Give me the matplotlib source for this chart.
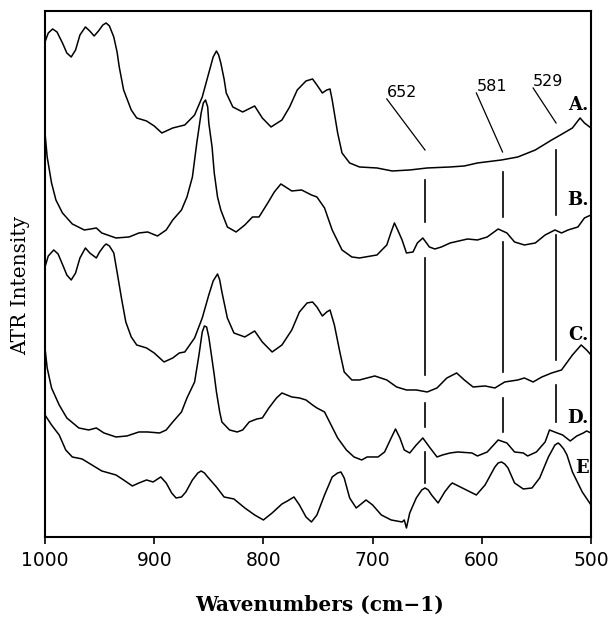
import matplotlib.pyplot as plt

# spectra: wavenumber (cm-1) and ATR intensity (arb. units)
wn_a = [1000, 997, 993, 989, 984, 980, 976, 972, 968, 963, 959, 955, 951, 947, 944,
        941, 937, 934, 932, 928, 921, 916, 907, 900, 893, 883,
        872, 863, 856, 850, 846, 843, 841, 839, 836, 834, 828, 819, 808, 801, 793,
        783, 776, 769, 761, 755, 751, 746, 742, 739, 737, 732, 728, 721, 712, 696,
        682, 666, 650, 629, 616, 604, 582, 567, 551, 536, 528, 517, 510, 506, 500]
int_a = [495, 504, 508, 505, 494, 484, 480, 487, 502, 510, 506, 501, 506, 512, 514,
         511, 500, 485, 470, 447, 427, 419, 416, 411, 404, 409,
         412, 422, 440, 464, 480, 486, 482, 474, 458, 444, 430, 425, 431, 419, 410,
         417, 430, 447, 456, 458, 452, 444, 447, 448, 437, 404, 384, 374, 370, 369,
         366, 367, 369, 370, 371, 374, 377, 380, 387, 397, 402, 409, 419, 414, 409]

wn_b = [1000, 998, 994, 990, 984, 975, 964, 958, 953, 948, 935, 923, 914, 906, 897,
        889, 883, 875, 870, 865, 861, 857, 855, 853, 851, 850, 847, 845, 842, 839,
        833, 825, 817, 810, 804, 796, 790, 784, 774, 765, 756, 751, 744, 737, 728,
        719, 712, 696, 687, 683, 680, 677, 673, 669, 663, 659, 654, 648, 643, 637,
        629, 625, 613, 604, 595, 585, 577, 570, 561, 551, 542, 533, 527, 521, 512,
        506, 500]
int_b = [404, 380, 354, 337, 324, 313, 307, 308, 309, 304, 299, 300, 304, 305, 301,
         307, 317, 327, 340, 360, 394, 424, 434, 437, 430, 414, 390, 364, 340, 327,
         310, 305, 312, 320, 320, 334, 345, 353, 346, 347, 342, 340, 329, 307, 287,
         280, 279, 282, 292, 305, 314, 307, 297, 284, 285, 294, 299, 290, 288, 290,
         294, 295, 298, 297, 300, 308, 304, 295, 292, 294, 302, 307, 304, 307, 310,
         319, 322]

wn_c = [1000, 997, 992, 988, 983, 980, 976, 972, 968, 963, 959, 953, 950, 946, 944,
        941, 937, 934, 930, 926, 921, 916, 907, 900, 891, 883,
        877, 872, 863, 856, 850, 846, 842, 840, 838, 833, 827, 817, 808, 801, 792,
        783, 774, 767, 760, 755, 751, 746, 742, 739, 735, 730, 726, 719, 712, 698,
        687, 678, 669, 660, 650, 641, 632, 623, 616, 608, 597, 588, 579, 567, 561,
        553, 545, 536, 527, 517, 509, 504, 500]
int_c = [270, 281, 287, 283, 270, 262, 257, 264, 279, 289, 284, 279, 285, 291, 293,
         291, 284, 265, 239, 215, 200, 192, 189, 184, 175, 179,
         184, 185, 199, 219, 242, 256, 263, 257, 245, 219, 204, 200, 206, 195, 185,
         192, 207, 225, 234, 235, 230, 221, 225, 227, 212, 185, 165, 157, 157, 161,
         157, 150, 147, 147, 145, 149, 159, 164, 157, 150, 151, 149, 155, 157, 159,
         155, 160, 164, 167, 182, 192, 187, 182]

wn_d = [1000, 998, 994, 987, 980, 969, 960, 953, 946, 935, 925, 914, 906, 895, 889,
        883, 875, 870, 863, 859, 856, 854, 852, 850, 848, 845, 843, 840, 838, 831,
        824, 819, 813, 806, 801, 795, 788, 783, 774, 767, 761, 755, 751, 744, 738,
        732, 724, 717, 710, 705, 695, 689, 683, 679, 675, 671, 666, 660, 654, 648,
        641, 636, 629, 622, 609, 604, 595, 585, 577, 570, 562, 558, 550, 542, 538,
        531, 526, 519, 513, 507, 504, 500]
int_d = [189, 169, 149, 132, 119, 109, 107, 109, 104, 100, 101, 105, 105, 104, 107,
         115, 125, 139, 155, 182, 205, 211, 210, 200, 185, 162, 145, 125, 115, 107,
         105, 107, 115, 118, 119, 129, 139, 144, 140, 139, 137, 132, 129, 125, 112,
         99, 87, 80, 77, 80, 80, 85, 99, 108, 99, 87, 84, 92, 99, 90,
         80, 82, 84, 85, 84, 81, 85, 97, 94, 85, 84, 81, 85, 95, 107,
         104, 102, 96, 101, 104, 106, 104]

wn_e = [1000, 994, 987, 981, 975, 966, 957, 948, 935, 928, 920, 914, 907, 901, 894,
        889, 884, 880, 875, 871, 865, 860, 857, 854, 851, 843, 836, 827, 817, 808,
        800, 792, 783, 778, 772, 767, 761, 756, 751, 744, 737, 732, 729, 726, 721,
        715, 706, 700, 692, 683, 673, 671, 669, 666, 660, 655, 652, 649, 646, 640,
        634, 629, 627, 616, 605, 597, 588, 585, 582, 579, 576, 570, 562, 554, 547,
        539, 533, 530, 528, 525, 522, 517, 508, 500]
int_e = [122, 112, 102, 87, 80, 78, 72, 66, 62, 57, 51, 54, 57, 55, 60,
         54, 44, 39, 40, 45, 57, 64, 66, 64, 60, 50, 40, 38, 29, 22,
         17, 24, 33, 36, 40, 32, 20, 15, 22, 42, 60, 64, 65, 59, 39,
         29, 37, 32, 22, 17, 15, 17, 9, 24, 39, 47, 49, 47, 42, 34,
         45, 52, 54, 48, 42, 52, 70, 74, 75, 73, 69, 54, 48, 49, 59,
         80, 92, 94, 92, 88, 82, 65, 45, 32]

spectra = [(wn_a, int_a), (wn_b, int_b), (wn_c, int_c), (wn_d, int_d), (wn_e, int_e)]
curve_names = ['A.', 'B.', 'C.', 'D.', 'E']
name_levels = [432, 337, 202, 119, 69]

# marked bands: label, where the guide line is drawn, broken guide segments
peak_labels = ['652', '581', '529']
peak_pos = [652, 581, 532]
peak_segments = [
    [(357, 315), (279, 162), (134, 110), (85, 54)],
    [(365, 320), (295, 165), (139, 105)],
    [(387, 322), (302, 177), (152, 115)],
]
label_anchor = [(687, 444), (605, 450), (553, 455)]
leader_end = [387, 385, 414]

fig = plt.figure(figsize=(6.13, 6.17), dpi=100)
ax = fig.add_axes((0.0734, 0.1297, 0.8907, 0.8525))

for wn, it in spectra:
    ax.plot(wn, it, color='black', lw=1.1, solid_joinstyle='round')

for name, lev in zip(curve_names, name_levels):
    ax.text(502, lev, name, ha='right', va='center', fontsize=13,
            fontweight='bold', family='DejaVu Serif')

for lab, pos, segs, (lx, ly), le in zip(peak_labels, peak_pos, peak_segments,
                                       label_anchor, leader_end):
    for top, bot in segs:
        ax.plot([pos, pos], [top, bot], color='black', lw=1.2)
    ax.plot([lx, pos], [ly - 6, le], color='black', lw=0.9)
    ax.text(lx, ly, lab, ha='left', va='center', fontsize=11.5)

ax.set_xlim(1000, 500)
ax.set_ylim(0, 526)
ax.set_xticks([1000, 900, 800, 700, 600, 500])
ax.set_yticks([])
ax.tick_params(axis='x', direction='out', length=5, width=1.2, pad=5, labelsize=13.5)
for s in ax.spines.values():
    s.set_linewidth(1.5)

ax.set_xlabel('Wavenumbers (cm\u22121)', fontsize=14.5, fontweight='bold',
              family='DejaVu Serif')
ax.xaxis.set_label_coords(0.503, -0.11)
ax.set_ylabel('ATR Intensity', fontsize=14.5, family='DejaVu Serif')
ax.yaxis.set_label_coords(-0.028, 0.479)

plt.savefig('out.png', dpi=100)
